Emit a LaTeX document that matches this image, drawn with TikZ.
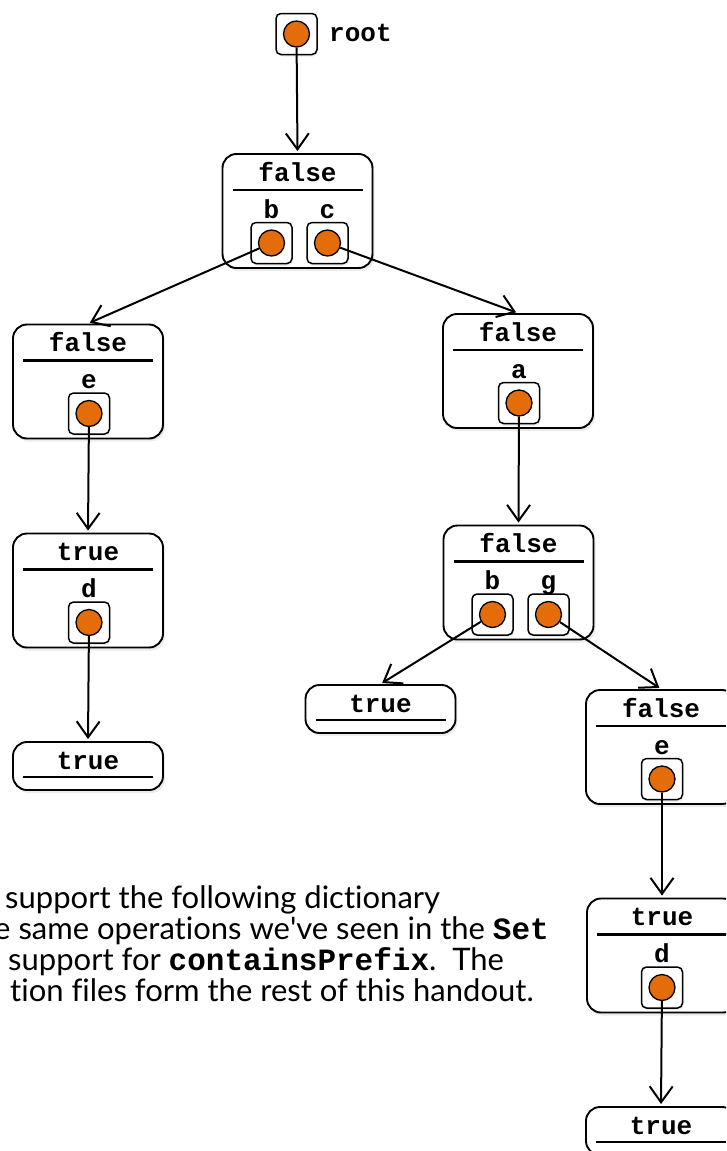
\documentclass[tikz,border=0pt]{standalone}
\usepackage{fontspec}
\setmainfont{Lato}[Ligatures={NoCommon}]
\setmonofont{Liberation Mono}
\usetikzlibrary{arrows.meta, positioning, shadows}
\definecolor{ptrorange}{RGB}{228,108,10}
\newcommand{\lblfont}{\ttfamily\bfseries\fontsize{26}{30}\selectfont}
\newcommand{\txtfont}{\fontsize{31}{34}\selectfont}

\begin{document}
\begin{tikzpicture}[x=1pt,y=-1pt,
    trie/.style={draw,line width=1.9pt,rounded corners=14pt,fill=white,
      minimum width=150pt,minimum height=114pt,
      drop shadow={opacity=0.15,shadow xshift=2pt,shadow yshift=-3pt}},
    leaf/.style={trie,minimum height=48pt},
    slot/.style={draw,line width=1.5pt,rounded corners=5pt,fill=white,minimum size=41pt,
      drop shadow={opacity=0.15,shadow xshift=1pt,shadow yshift=-2pt}},
    ptr/.style={circle,draw,line width=1.3pt,fill=ptrorange,minimum size=26pt,inner sep=0pt},
    flag/.style={anchor=base,font=\lblfont,inner sep=0pt},
    bar/.style={line width=2.8pt},
    link/.style={line width=2pt,shorten >=2pt,-{Straight Barb[length=16pt,width=23pt]}},
    txt/.style={anchor=base west,font=\txtfont,inner sep=0pt}]
  \useasboundingbox (0,0) rectangle (726,1151);
  \clip (0,0) rectangle (726,1151);

  % root pointer
  \node[slot] (root-s) at (296.5,34) {};
  \node[ptr] (root) at (root-s) {};
  \node[flag,anchor=base west] (root-l) at (329,41) {root};

  % top node
  \node[trie] (t0) at (297.5,211) {};
  \node[flag] at ([yshift=30pt]t0.center) {false};
  \draw[bar] ([xshift=-65pt,yshift=21pt]t0.center) -- ([xshift=65pt,yshift=21pt]t0.center);
  \node[flag] at ([xshift=-26pt,yshift=-7pt]t0.center) {b};
  \node[flag] at ([xshift=30pt,yshift=-7pt]t0.center) {c};
  \node[slot] (t0-sb) at ([xshift=-26pt,yshift=-32pt]t0.center) {};
  \node[slot] (t0-sc) at ([xshift=30pt,yshift=-32pt]t0.center) {};
  \node[ptr] (t0-b) at (t0-sb) {};
  \node[ptr] (t0-c) at (t0-sc) {};

  % left branch: b, be, bed
  \node[trie] (tb) at (88,381.5) {};
  \node[flag] at ([yshift=30pt]tb.center) {false};
  \draw[bar] ([xshift=-65pt,yshift=21pt]tb.center) -- ([xshift=65pt,yshift=21pt]tb.center);
  \node[flag] at ([xshift=1pt,yshift=-7pt]tb.center) {e};
  \node[slot] (tb-se) at ([xshift=1pt,yshift=-32pt]tb.center) {};
  \node[ptr] (tb-e) at (tb-se) {};

  \node[trie] (tbe) at (88,590.5) {};
  \node[flag] at ([yshift=30pt]tbe.center) {true};
  \draw[bar] ([xshift=-65pt,yshift=21pt]tbe.center) -- ([xshift=65pt,yshift=21pt]tbe.center);
  \node[flag] at ([xshift=1pt,yshift=-7pt]tbe.center) {d};
  \node[slot] (tbe-sd) at ([xshift=1pt,yshift=-32pt]tbe.center) {};
  \node[ptr] (tbe-d) at (tbe-sd) {};

  \node[leaf] (tbed) at (88,766) {};
  \node[flag] at ([yshift=-3pt]tbed.center) {true};
  \draw[bar] ([xshift=-65pt,yshift=-11pt]tbed.center) -- ([xshift=65pt,yshift=-11pt]tbed.center);

  % right branch: c, ca, cab, cag, cage, caged
  \node[trie] (tc) at (518,371) {};
  \node[flag] at ([yshift=30pt]tc.center) {false};
  \draw[bar] ([xshift=-65pt,yshift=21pt]tc.center) -- ([xshift=65pt,yshift=21pt]tc.center);
  \node[flag] at ([xshift=1pt,yshift=-7pt]tc.center) {a};
  \node[slot] (tc-sa) at ([xshift=1pt,yshift=-32pt]tc.center) {};
  \node[ptr] (tc-a) at (tc-sa) {};

  \node[trie] (tca) at (518.5,582.5) {};
  \node[flag] at ([yshift=30pt]tca.center) {false};
  \draw[bar] ([xshift=-65pt,yshift=21pt]tca.center) -- ([xshift=65pt,yshift=21pt]tca.center);
  \node[flag] at ([xshift=-26pt,yshift=-7pt]tca.center) {b};
  \node[flag] at ([xshift=30pt,yshift=-7pt]tca.center) {g};
  \node[slot] (tca-sb) at ([xshift=-26pt,yshift=-32pt]tca.center) {};
  \node[slot] (tca-sg) at ([xshift=30pt,yshift=-32pt]tca.center) {};
  \node[ptr] (tca-b) at (tca-sb) {};
  \node[ptr] (tca-g) at (tca-sg) {};

  \node[leaf] (tcab) at (380.5,709) {};
  \node[flag] at ([yshift=-3pt]tcab.center) {true};
  \draw[bar] ([xshift=-65pt,yshift=-11pt]tcab.center) -- ([xshift=65pt,yshift=-11pt]tcab.center);

  \node[trie] (tcag) at (661,747) {};
  \node[flag] at ([yshift=30pt]tcag.center) {false};
  \draw[bar] ([xshift=-65pt,yshift=21pt]tcag.center) -- ([xshift=65pt,yshift=21pt]tcag.center);
  \node[flag] at ([xshift=1pt,yshift=-7pt]tcag.center) {e};
  \node[slot] (tcag-se) at ([xshift=1pt,yshift=-32pt]tcag.center) {};
  \node[ptr] (tcag-e) at (tcag-se) {};

  \node[trie] (tcage) at (662,955.5) {};
  \node[flag] at ([yshift=30pt]tcage.center) {true};
  \draw[bar] ([xshift=-65pt,yshift=21pt]tcage.center) -- ([xshift=65pt,yshift=21pt]tcage.center);
  \node[flag] at ([xshift=0pt,yshift=-7pt]tcage.center) {d};
  \node[slot] (tcage-sd) at ([xshift=0pt,yshift=-32pt]tcage.center) {};
  \node[ptr] (tcage-d) at (tcage-sd) {};

  \node[leaf] (tcaged) at (661,1131) {};
  \node[flag] at ([yshift=-3pt]tcaged.center) {true};
  \draw[bar] ([xshift=-65pt,yshift=-11pt]tcaged.center) -- ([xshift=65pt,yshift=-11pt]tcaged.center);

  % links
  \draw[link] (root) -- (t0.north);
  \draw[link] (t0-b) -- (tb.north);
  \draw[link] (t0-c) -- (tc.north);
  \draw[link] (tb-e) -- (tbe.north);
  \draw[link] (tbe-d) -- (tbed.north);
  \draw[link] (tc-a) -- (tca.north);
  \draw[link] (tca-b) -- (tcab.north);
  \draw[link] (tca-g) -- (tcag.north);
  \draw[link] (tcag-e) -- (tcage.north);
  \draw[link] (tcage-d) -- (tcaged.north);

  % handout text
  \node[txt] (txt1) at (5,908) {support the following dictionary};
  \node[txt] (txt2) at (-6,939) {e same operations we\textquotesingle ve seen in the \texttt{\bfseries Set}};
  \node[txt] (txt3) at (8,970) {support for \texttt{\bfseries containsPrefix}.\ \ The};
  \node[txt] (txt4) at (10,1001) {tion files form the rest of this handout.};
\end{tikzpicture}
\end{document}
